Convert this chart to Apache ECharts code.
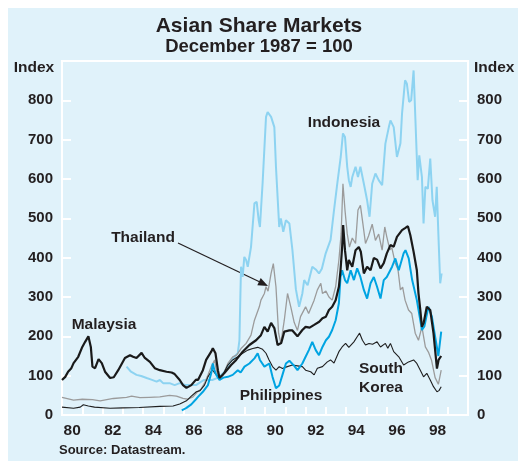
<!DOCTYPE html>
<html>
<head>
<meta charset="utf-8">
<script src="https://cdn.jsdelivr.net/npm/echarts@6/dist/echarts.min.js"></script>
<style>
  body { margin: 0; background: #ffffff; }
  #chart { width: 518px; height: 461px; }
</style>
</head>
<body>
<div id="chart"></div>
<script>
// tick label years shown under the axis
var years = ['80', '81', '82', '83', '84', '85', '86', '87', '88', '89',
  '90', '91', '92', '93', '94', '95', '96', '97', '98', '99']

// [year, index] pairs (December 1987 = 100)
var malaysia = [[1980.0, 89], [1980.16, 97], [1980.3, 110], [1980.45, 118], [1980.57, 132], [1980.8, 148], [1981.0, 173], [1981.14, 186], [1981.3, 200], [1981.35, 205], [1981.42, 173], [1981.5, 123], [1981.63, 119], [1981.8, 142], [1981.96, 132], [1982.12, 110], [1982.37, 94], [1982.55, 96], [1982.77, 114], [1983.1, 145], [1983.35, 152], [1983.5, 148], [1983.67, 145], [1983.92, 158], [1984.08, 145], [1984.33, 135], [1984.57, 119], [1984.82, 114], [1985.15, 110], [1985.4, 108], [1985.55, 104], [1985.8, 89], [1985.96, 76], [1986.13, 69], [1986.2, 69], [1986.37, 76], [1986.45, 81], [1986.6, 90], [1986.7, 89], [1986.94, 114], [1987.1, 140], [1987.35, 161], [1987.43, 170], [1987.56, 157], [1987.68, 114], [1987.76, 94], [1988.0, 107], [1988.33, 127], [1988.58, 140], [1988.9, 161], [1989.23, 178], [1989.56, 190], [1989.8, 203], [1989.97, 224], [1990.13, 212], [1990.3, 234], [1990.46, 221], [1990.62, 178], [1990.8, 183], [1990.95, 212], [1991.2, 215], [1991.35, 215], [1991.6, 200], [1991.84, 216], [1992.0, 224], [1992.2, 222], [1992.42, 229], [1992.67, 237], [1992.83, 246], [1993.0, 250], [1993.15, 267], [1993.31, 275], [1993.48, 292], [1993.64, 326], [1993.72, 368], [1993.8, 427], [1993.85, 483], [1993.94, 419], [1994.05, 368], [1994.13, 394], [1994.3, 377], [1994.46, 419], [1994.62, 427], [1994.72, 415], [1994.87, 360], [1995.03, 377], [1995.2, 368], [1995.36, 399], [1995.52, 395], [1995.69, 373], [1995.85, 386], [1996.0, 411], [1996.18, 432], [1996.34, 428], [1996.5, 453], [1996.75, 470], [1996.9, 475], [1997.04, 480], [1997.16, 457], [1997.32, 415], [1997.48, 368], [1997.56, 310], [1997.65, 267], [1997.73, 224], [1997.82, 235], [1997.97, 275], [1998.14, 267], [1998.3, 208], [1998.47, 118], [1998.55, 140], [1998.68, 150]]

var indonesia = [[1983.18, 123], [1983.4, 110], [1983.67, 102], [1983.9, 99], [1984.17, 94], [1984.4, 90], [1984.66, 85], [1984.82, 89], [1984.98, 81], [1985.3, 81], [1985.55, 76], [1985.8, 81], [1986.1, 76], [1986.6, 76], [1986.86, 85], [1987.0, 89], [1987.4, 89], [1987.7, 95], [1988.0, 110], [1988.33, 140], [1988.66, 157], [1988.74, 190], [1988.79, 310], [1988.82, 377], [1988.9, 351], [1988.98, 402], [1989.07, 394], [1989.15, 377], [1989.31, 427], [1989.48, 538], [1989.59, 542], [1989.69, 495], [1989.75, 478], [1989.88, 588], [1990.05, 758], [1990.13, 770], [1990.3, 758], [1990.46, 732], [1990.54, 631], [1990.7, 478], [1990.78, 500], [1990.9, 466], [1991.03, 495], [1991.2, 487], [1991.35, 420], [1991.52, 320], [1991.68, 275], [1991.84, 309], [1991.93, 343], [1992.1, 330], [1992.33, 377], [1992.5, 370], [1992.66, 360], [1992.8, 372], [1992.99, 411], [1993.23, 445], [1993.4, 521], [1993.56, 588], [1993.73, 656], [1993.84, 716], [1993.94, 707], [1994.05, 631], [1994.13, 597], [1994.22, 580], [1994.3, 605], [1994.46, 631], [1994.58, 605], [1994.7, 631], [1994.87, 588], [1995.03, 546], [1995.15, 504], [1995.28, 588], [1995.44, 614], [1995.6, 597], [1995.77, 584], [1995.93, 690], [1996.1, 732], [1996.18, 749], [1996.34, 732], [1996.5, 656], [1996.67, 690], [1996.75, 766], [1996.9, 851], [1996.99, 842], [1997.1, 796], [1997.2, 800], [1997.32, 876], [1997.4, 872], [1997.52, 597], [1997.6, 660], [1997.73, 605], [1997.81, 487], [1997.9, 580], [1998.02, 575], [1998.14, 652], [1998.25, 546], [1998.38, 504], [1998.46, 580], [1998.54, 461], [1998.63, 335], [1998.7, 360]]

var thailand = [[1980.0, 45], [1980.57, 38], [1981.0, 40], [1981.5, 39], [1981.88, 36], [1982.53, 42], [1983.18, 45], [1983.43, 48], [1983.84, 44], [1984.3, 45], [1984.82, 46], [1985.3, 50], [1985.64, 48], [1985.96, 42], [1986.2, 40], [1986.45, 46], [1986.7, 60], [1986.85, 66], [1987.02, 81], [1987.19, 102], [1987.35, 123], [1987.52, 140], [1987.6, 114], [1987.76, 94], [1987.92, 100], [1988.17, 131], [1988.41, 148], [1988.6, 152], [1988.82, 169], [1989.07, 182], [1989.31, 203], [1989.48, 241], [1989.72, 275], [1989.8, 292], [1989.97, 309], [1990.05, 326], [1990.15, 315], [1990.3, 360], [1990.41, 385], [1990.54, 326], [1990.67, 208], [1990.78, 182], [1990.95, 241], [1991.11, 309], [1991.27, 275], [1991.44, 235], [1991.6, 215], [1991.75, 250], [1992.0, 275], [1992.15, 258], [1992.42, 292], [1992.58, 318], [1992.75, 335], [1992.83, 309], [1993.0, 315], [1993.15, 300], [1993.31, 292], [1993.48, 326], [1993.64, 394], [1993.75, 461], [1993.84, 588], [1993.94, 521], [1994.05, 461], [1994.16, 427], [1994.3, 450], [1994.46, 436], [1994.58, 521], [1994.7, 533], [1994.82, 487], [1994.95, 436], [1995.1, 455], [1995.28, 485], [1995.44, 444], [1995.6, 460], [1995.77, 419], [1995.9, 478], [1996.0, 453], [1996.15, 420], [1996.25, 425], [1996.42, 385], [1996.55, 370], [1996.67, 318], [1996.78, 325], [1996.9, 292], [1997.07, 267], [1997.23, 258], [1997.4, 208], [1997.56, 190], [1997.73, 224], [1997.9, 173], [1998.05, 160], [1998.2, 140], [1998.38, 95], [1998.54, 78], [1998.68, 114]]

var philippines = [[1985.9, 12], [1986.13, 18], [1986.37, 27], [1986.6, 40], [1986.7, 46], [1986.94, 59], [1987.19, 76], [1987.35, 106], [1987.43, 131], [1987.5, 115], [1987.6, 102], [1987.76, 89], [1987.95, 95], [1988.17, 97], [1988.41, 102], [1988.66, 114], [1988.8, 108], [1988.99, 123], [1989.23, 131], [1989.48, 144], [1989.64, 157], [1989.75, 140], [1989.97, 123], [1990.21, 131], [1990.37, 97], [1990.54, 68], [1990.7, 75], [1990.86, 102], [1991.03, 131], [1991.2, 138], [1991.44, 125], [1991.6, 114], [1991.84, 131], [1992.0, 148], [1992.16, 165], [1992.33, 186], [1992.5, 165], [1992.66, 152], [1992.83, 173], [1993.0, 190], [1993.15, 199], [1993.31, 216], [1993.48, 241], [1993.64, 284], [1993.72, 351], [1993.8, 368], [1993.94, 343], [1994.05, 335], [1994.22, 368], [1994.38, 343], [1994.54, 373], [1994.7, 351], [1994.87, 318], [1995.03, 296], [1995.2, 335], [1995.36, 351], [1995.52, 326], [1995.69, 296], [1995.85, 343], [1996.0, 351], [1996.26, 377], [1996.42, 398], [1996.59, 368], [1996.83, 411], [1996.92, 419], [1997.08, 398], [1997.25, 343], [1997.33, 340], [1997.48, 292], [1997.65, 241], [1997.73, 216], [1997.85, 225], [1998.05, 275], [1998.22, 250], [1998.38, 199], [1998.54, 150], [1998.68, 212]]

var southKorea = [[1980.0, 20], [1980.57, 17], [1980.9, 20], [1981.05, 26], [1981.3, 23], [1981.6, 20], [1982.37, 17], [1983.0, 18], [1983.8, 19], [1984.82, 22], [1985.47, 23], [1985.8, 28], [1986.13, 36], [1986.37, 48], [1986.62, 59], [1986.8, 62], [1987.02, 76], [1987.19, 97], [1987.4, 115], [1987.55, 105], [1987.75, 95], [1987.92, 102], [1988.17, 127], [1988.41, 140], [1988.66, 148], [1988.9, 157], [1989.15, 165], [1989.4, 169], [1989.64, 172], [1989.88, 167], [1990.05, 157], [1990.2, 140], [1990.37, 123], [1990.54, 114], [1990.7, 123], [1990.86, 118], [1991.1, 123], [1991.35, 127], [1991.6, 125], [1991.84, 123], [1992.0, 114], [1992.25, 110], [1992.42, 102], [1992.58, 119], [1992.83, 123], [1993.07, 135], [1993.23, 140], [1993.4, 132], [1993.64, 161], [1993.8, 173], [1993.97, 182], [1994.13, 172], [1994.38, 186], [1994.54, 199], [1994.66, 208], [1994.8, 190], [1994.95, 178], [1995.12, 182], [1995.3, 180], [1995.52, 186], [1995.69, 173], [1995.93, 182], [1996.05, 170], [1996.18, 182], [1996.34, 161], [1996.59, 148], [1996.83, 127], [1997.07, 135], [1997.32, 140], [1997.48, 131], [1997.65, 114], [1997.81, 97], [1997.97, 106], [1998.14, 89], [1998.3, 72], [1998.47, 59], [1998.57, 62], [1998.68, 72]]

var FONT = 'Liberation Sans, Arial, sans-serif'
var INK = '#231f20'

function lineSeries (name, data, color, width) {
  return {
    name: name,
    type: 'line',
    xAxisIndex: 1,
    yAxisIndex: 0,
    data: data,
    showSymbol: false,
    silent: true,
    lineStyle: { color: color, width: width }
  }
}

function label (text, x, y, align) {
  return {
    type: 'text',
    x: x,
    y: y,
    style: {
      text: text,
      fontFamily: FONT,
      fontWeight: 'bold',
      fontSize: 15.5,
      fill: INK,
      align: align || 'center',
      verticalAlign: 'middle'
    }
  }
}

var yAxisCommon = {
  type: 'value',
  min: 0,
  max: 900,
  interval: 100,
  splitLine: { show: false },
  axisLine: { show: false },
  axisTick: { show: true, inside: true, length: 9, lineStyle: { color: '#ffffff', width: 2 } },
  axisLabel: {
    margin: 9,
    fontFamily: FONT,
    fontWeight: 'bold',
    fontSize: 15,
    color: INK,
    formatter: function (v) { return v === 900 ? '' : v }
  }
}

var option = {
  animation: false,
  graphic: [
    { type: 'rect', z: -10, shape: { x: 8, y: 8, width: 510, height: 453 }, style: { fill: '#e0f2fa' } },
    {
      type: 'text', x: 259, y: 26,
      style: { text: 'Asian Share Markets', fontFamily: FONT, fontWeight: 'bold', fontSize: 21, fill: INK, align: 'center', verticalAlign: 'middle' }
    },
    {
      type: 'text', x: 259, y: 47,
      style: { text: 'December 1987 = 100', fontFamily: FONT, fontWeight: 'bold', fontSize: 18.5, fill: INK, align: 'center', verticalAlign: 'middle' }
    },
    label('Index', 34, 68),
    label('Index', 474, 68, 'left'),
    label('Malaysia', 104, 325),
    label('Thailand', 143, 238),
    label('Indonesia', 344, 123),
    label('Philippines', 281, 396),
    label('South', 359, 369, 'left'),
    label('Korea', 359, 388, 'left'),
    {
      type: 'text', x: 59, y: 450,
      style: { text: 'Source: Datastream.', fontFamily: FONT, fontWeight: 'bold', fontSize: 13, fill: INK, align: 'left', verticalAlign: 'middle' }
    },
    // arrow from the Thailand label to its line
    { type: 'line', shape: { x1: 178, y1: 243, x2: 261, y2: 282.5 }, style: { stroke: INK, lineWidth: 1.2 } },
    { type: 'polygon', shape: { points: [[268, 286], [257.3, 285.3], [260.7, 278.1]] }, style: { fill: INK } }
  ],
  grid: {
    left: 62,
    top: 61,
    width: 406,
    height: 354,
    show: true,
    backgroundColor: 'transparent',
    borderColor: '#ffffff',
    borderWidth: 2
  },
  xAxis: [
    {
      type: 'category',
      data: years,
      boundaryGap: true,
      axisLine: { show: false },
      axisTick: { show: true, inside: true, interval: 0, length: 8, lineStyle: { color: '#ffffff', width: 2 } },
      axisLabel: {
        interval: 1,
        margin: 8,
        fontFamily: FONT,
        fontWeight: 'bold',
        fontSize: 15.5,
        color: INK
      },
      splitLine: { show: false }
    },
    {
      type: 'value',
      min: 1980,
      max: 2000,
      show: false
    }
  ],
  yAxis: [
    Object.assign({ position: 'left' }, yAxisCommon),
    Object.assign({ position: 'right' }, yAxisCommon)
  ],
  series: [
    lineSeries('Indonesia', indonesia, '#8dd3f1', 2),
    lineSeries('Thailand', thailand, '#9b9b9b', 1.3),
    lineSeries('South Korea', southKorea, '#1f1f1f', 1.1),
    lineSeries('Philippines', philippines, '#00a4e2', 2),
    lineSeries('Malaysia', malaysia, '#1a1a1a', 2.2)
  ]
}

var myChart = echarts.init(document.getElementById('chart'))
myChart.setOption(option)
</script>
</body>
</html>
